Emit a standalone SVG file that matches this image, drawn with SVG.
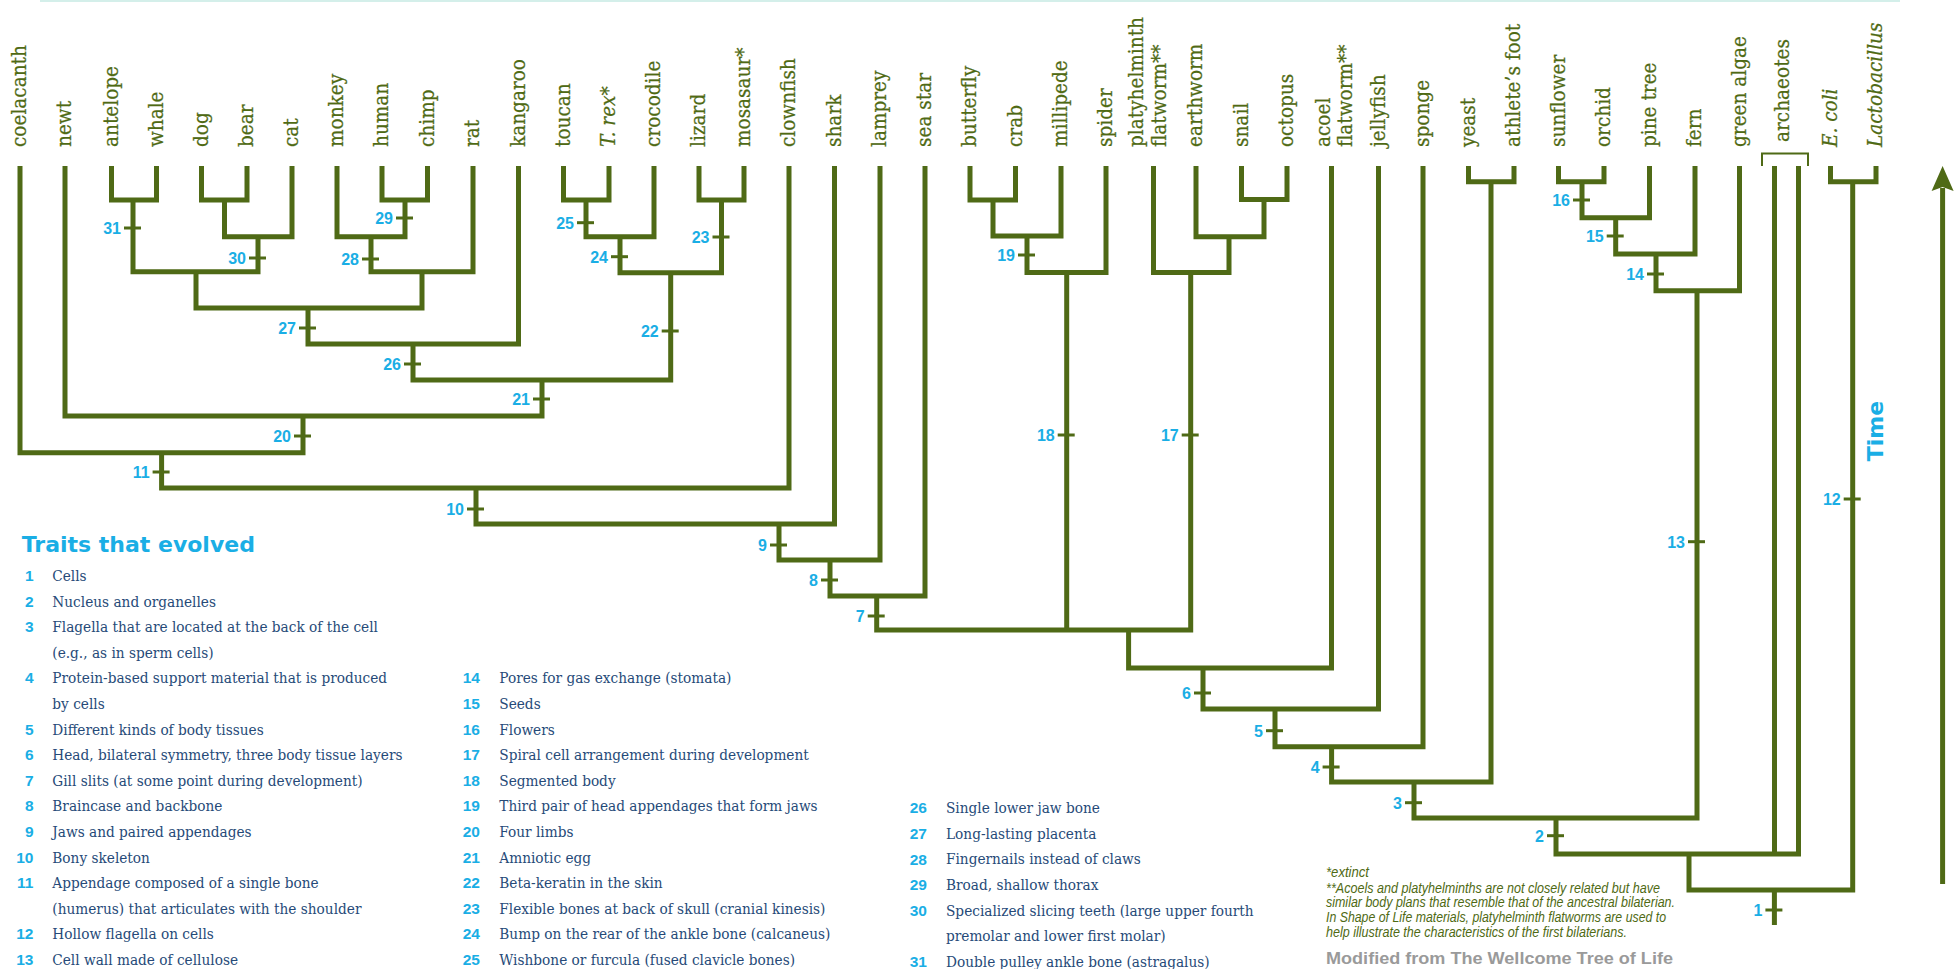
<svg xmlns="http://www.w3.org/2000/svg" width="1959" height="969" viewBox="0 0 1959 969">
<style>
.br{fill:none;stroke:#4f6a16;stroke-width:5;stroke-linejoin:miter;stroke-linecap:butt}
.thin{fill:none;stroke:#4f6a16;stroke-width:2}
.tk{fill:none;stroke:#4f6a16;stroke-width:3}
.lf{font-family:"DejaVu Serif","Liberation Serif",serif;font-size:21px;fill:#4f6a14;stroke:#4f6a14;stroke-width:0.25}
.it{font-style:italic}
.nm{font-family:"Liberation Sans",Arial,sans-serif;font-weight:bold;font-size:16px;fill:#1aaee5;text-anchor:end}
.ln{font-family:"Liberation Sans",Arial,sans-serif;font-weight:bold;font-size:15.5px;fill:#1aaee5;text-anchor:end}
.lt{font-family:"DejaVu Serif","Liberation Serif",serif;font-size:15.5px;fill:#264a78}
.fn{font-family:"Liberation Sans",Arial,sans-serif;font-style:italic;font-size:14px;fill:#4f6a14}
.ttl{font-family:"DejaVu Sans","Liberation Sans",sans-serif;font-weight:bold;font-size:22px;fill:#1aaee5}
</style>
<rect x="40" y="0" width="1860" height="2" fill="#d4efea"/>

<g id="connectors">
<path class="br" d="M111.5,166V200H156.5V166"/>
<path class="br" d="M201.5,166V200H247V166"/>
<path class="br" d="M224.5,200V236.7H292V166"/>
<path class="br" d="M382,166V200H427.5V166"/>
<path class="br" d="M337,166V236.7H405V200"/>
<path class="br" d="M133,200V271.7H258V236.7"/>
<path class="br" d="M371,236.7V271.7H473V166"/>
<path class="br" d="M196,271.7V308H422V271.7"/>
<path class="br" d="M308,308V344H518.5V166"/>
<path class="br" d="M563.5,166V200H609V166"/>
<path class="br" d="M586,200V236.7H654V166"/>
<path class="br" d="M699,166V200H744V166"/>
<path class="br" d="M620,236.7V272.7H721.5V200"/>
<path class="br" d="M413,344V380H670.7V272.7"/>
<path class="br" d="M65,166V416H542V380"/>
<path class="br" d="M20,166V452.7H303V416"/>
<path class="br" d="M161.6,452.7V488H789V166"/>
<path class="br" d="M476,488V524H834.5V166"/>
<path class="br" d="M779,524V560H880V166"/>
<path class="br" d="M830,560V596H925V166"/>
<path class="br" d="M970,166V200H1015.5V166"/>
<path class="br" d="M993,200V236H1061V166"/>
<path class="br" d="M1027,236V272.5H1106V166"/>
<path class="br" d="M1241.5,166V199.5H1287V166"/>
<path class="br" d="M1196,166V236.7H1264V199.5"/>
<path class="br" d="M1153.5,166V272.5H1229V236.7"/>
<path class="br" d="M876.7,596V630H1190.7V272.5"/>
<path class="br" d="M1066.7,272.5V630"/>
<path class="br" d="M1128.6,630V668H1331.5V166"/>
<path class="br" d="M1203,668V709H1378.5V166"/>
<path class="br" d="M1275,709V746.7H1423V166"/>
<path class="br" d="M1468.5,166V181.7H1514V166"/>
<path class="br" d="M1331.6,746.7V782H1491V181.7"/>
<path class="br" d="M1558.5,166V181.7H1604V166"/>
<path class="br" d="M1582,181.7V217.7H1649.5V166"/>
<path class="br" d="M1615.7,217.7V254H1695V166"/>
<path class="br" d="M1656,254V290.7H1739.5V166"/>
<path class="br" d="M1414,782V818H1697V290.7"/>
<path class="br" d="M1556,818V854H1798.5V166"/>
<path class="br" d="M1774.5,166V854"/>
<path class="br" d="M1830.5,166V181.7H1876V166"/>
<path class="br" d="M1689,854V890H1852.7V181.7"/>
<path class="br" d="M1774.4,890V925"/>
<path class="thin" d="M1762,166V153.5H1808V166"/>
</g>

<g id="leaves">
<g id="leaf-coelacanth"><text class="lf" transform="translate(26,147) rotate(-90) scale(0.88,1)">coelacanth</text></g>
<g id="leaf-newt"><text class="lf" transform="translate(71,147) rotate(-90) scale(0.88,1)">newt</text></g>
<g id="leaf-antelope"><text class="lf" transform="translate(117.5,147) rotate(-90) scale(0.88,1)">antelope</text></g>
<g id="leaf-whale"><text class="lf" transform="translate(162.5,147) rotate(-90) scale(0.88,1)">whale</text></g>
<g id="leaf-dog"><text class="lf" transform="translate(207.5,147) rotate(-90) scale(0.88,1)">dog</text></g>
<g id="leaf-bear"><text class="lf" transform="translate(253,147) rotate(-90) scale(0.88,1)">bear</text></g>
<g id="leaf-cat"><text class="lf" transform="translate(298,147) rotate(-90) scale(0.88,1)">cat</text></g>
<g id="leaf-monkey"><text class="lf" transform="translate(343,147) rotate(-90) scale(0.88,1)">monkey</text></g>
<g id="leaf-human"><text class="lf" transform="translate(388,147) rotate(-90) scale(0.88,1)">human</text></g>
<g id="leaf-chimp"><text class="lf" transform="translate(433.5,147) rotate(-90) scale(0.88,1)">chimp</text></g>
<g id="leaf-rat"><text class="lf" transform="translate(479,147) rotate(-90) scale(0.88,1)">rat</text></g>
<g id="leaf-kangaroo"><text class="lf" transform="translate(524.5,147) rotate(-90) scale(0.88,1)">kangaroo</text></g>
<g id="leaf-toucan"><text class="lf" transform="translate(569.5,147) rotate(-90) scale(0.88,1)">toucan</text></g>
<g id="leaf-trex"><text class="lf it" transform="translate(615,147) rotate(-90) scale(0.88,1)">T. rex*</text></g>
<g id="leaf-crocodile"><text class="lf" transform="translate(660,147) rotate(-90) scale(0.88,1)">crocodile</text></g>
<g id="leaf-lizard"><text class="lf" transform="translate(705,147) rotate(-90) scale(0.88,1)">lizard</text></g>
<g id="leaf-mosasaur"><text class="lf" transform="translate(750,147) rotate(-90) scale(0.88,1)">mosasaur*</text></g>
<g id="leaf-clownfish"><text class="lf" transform="translate(795,147) rotate(-90) scale(0.88,1)">clownfish</text></g>
<g id="leaf-shark"><text class="lf" transform="translate(840.5,147) rotate(-90) scale(0.88,1)">shark</text></g>
<g id="leaf-lamprey"><text class="lf" transform="translate(886,147) rotate(-90) scale(0.88,1)">lamprey</text></g>
<g id="leaf-seastar"><text class="lf" transform="translate(931,147) rotate(-90) scale(0.88,1)">sea star</text></g>
<g id="leaf-butterfly"><text class="lf" transform="translate(976,147) rotate(-90) scale(0.88,1)">butterfly</text></g>
<g id="leaf-crab"><text class="lf" transform="translate(1021.5,147) rotate(-90) scale(0.88,1)">crab</text></g>
<g id="leaf-millipede"><text class="lf" transform="translate(1067,147) rotate(-90) scale(0.88,1)">millipede</text></g>
<g id="leaf-spider"><text class="lf" transform="translate(1112,147) rotate(-90) scale(0.88,1)">spider</text></g>
<g id="leaf-platyhelminth"><text class="lf" transform="translate(1143,147) rotate(-90) scale(0.88,1)">platyhelminth</text><text class="lf" transform="translate(1166,147) rotate(-90) scale(0.88,1)">flatworm**</text></g>
<g id="leaf-earthworm"><text class="lf" transform="translate(1202,147) rotate(-90) scale(0.88,1)">earthworm</text></g>
<g id="leaf-snail"><text class="lf" transform="translate(1247.5,147) rotate(-90) scale(0.88,1)">snail</text></g>
<g id="leaf-octopus"><text class="lf" transform="translate(1293,147) rotate(-90) scale(0.88,1)">octopus</text></g>
<g id="leaf-acoel"><text class="lf" transform="translate(1330,147) rotate(-90) scale(0.88,1)">acoel</text><text class="lf" transform="translate(1352,147) rotate(-90) scale(0.88,1)">flatworm**</text></g>
<g id="leaf-jellyfish"><text class="lf" transform="translate(1384.5,147) rotate(-90) scale(0.88,1)">jellyfish</text></g>
<g id="leaf-sponge"><text class="lf" transform="translate(1429,147) rotate(-90) scale(0.88,1)">sponge</text></g>
<g id="leaf-yeast"><text class="lf" transform="translate(1474.5,147) rotate(-90) scale(0.88,1)">yeast</text></g>
<g id="leaf-athletesfoot"><text class="lf" transform="translate(1520,147) rotate(-90) scale(0.88,1)">athlete’s foot</text></g>
<g id="leaf-sunflower"><text class="lf" transform="translate(1564.5,147) rotate(-90) scale(0.88,1)">sunflower</text></g>
<g id="leaf-orchid"><text class="lf" transform="translate(1610,147) rotate(-90) scale(0.88,1)">orchid</text></g>
<g id="leaf-pinetree"><text class="lf" transform="translate(1655.5,147) rotate(-90) scale(0.88,1)">pine tree</text></g>
<g id="leaf-fern"><text class="lf" transform="translate(1701,147) rotate(-90) scale(0.88,1)">fern</text></g>
<g id="leaf-greenalgae"><text class="lf" transform="translate(1745.5,147) rotate(-90) scale(0.88,1)">green algae</text></g>
<g id="leaf-archaeotes"><text class="lf" transform="translate(1789,142) rotate(-90) scale(0.88,1)">archaeotes</text></g>
<g id="leaf-ecoli"><text class="lf it" transform="translate(1836.5,147) rotate(-90) scale(0.88,1)">E. coli</text></g>
<g id="leaf-lactobacillus"><text class="lf it" transform="translate(1882,147) rotate(-90) scale(0.88,1)">Lactobacillus</text></g>
</g>

<g id="traits">
<g id="node-1"><path class="tk" d="M1765.4,910H1782.4"/><text class="nm" x="1762.4" y="916">1</text></g>
<g id="node-2"><path class="tk" d="M1547,835.7H1564"/><text class="nm" x="1544" y="841.7">2</text></g>
<g id="node-3"><path class="tk" d="M1405,802.7H1422"/><text class="nm" x="1402" y="808.7">3</text></g>
<g id="node-4"><path class="tk" d="M1322.6,767H1339.6"/><text class="nm" x="1319.6" y="773">4</text></g>
<g id="node-5"><path class="tk" d="M1266,730.7H1283"/><text class="nm" x="1263" y="736.7">5</text></g>
<g id="node-6"><path class="tk" d="M1194,693H1211"/><text class="nm" x="1191" y="699">6</text></g>
<g id="node-7"><path class="tk" d="M867.7,616H884.7"/><text class="nm" x="864.7" y="622">7</text></g>
<g id="node-8"><path class="tk" d="M821,580H838"/><text class="nm" x="818" y="586">8</text></g>
<g id="node-9"><path class="tk" d="M770,545H787"/><text class="nm" x="767" y="551">9</text></g>
<g id="node-10"><path class="tk" d="M467,509H484"/><text class="nm" x="464" y="515">10</text></g>
<g id="node-11"><path class="tk" d="M152.6,472H169.6"/><text class="nm" x="149.6" y="478">11</text></g>
<g id="node-12"><path class="tk" d="M1843.7,499H1860.7"/><text class="nm" x="1840.7" y="505">12</text></g>
<g id="node-13"><path class="tk" d="M1688,541.7H1705"/><text class="nm" x="1685" y="547.7">13</text></g>
<g id="node-14"><path class="tk" d="M1647,274H1664"/><text class="nm" x="1644" y="280">14</text></g>
<g id="node-15"><path class="tk" d="M1606.7,236H1623.7"/><text class="nm" x="1603.7" y="242">15</text></g>
<g id="node-16"><path class="tk" d="M1573,200H1590"/><text class="nm" x="1570" y="206">16</text></g>
<g id="node-17"><path class="tk" d="M1181.7,435H1198.7"/><text class="nm" x="1178.7" y="441">17</text></g>
<g id="node-18"><path class="tk" d="M1057.7,435H1074.7"/><text class="nm" x="1054.7" y="441">18</text></g>
<g id="node-19"><path class="tk" d="M1018,255H1035"/><text class="nm" x="1015" y="261">19</text></g>
<g id="node-20"><path class="tk" d="M294,436H311"/><text class="nm" x="291" y="442">20</text></g>
<g id="node-21"><path class="tk" d="M533,399H550"/><text class="nm" x="530" y="405">21</text></g>
<g id="node-22"><path class="tk" d="M661.7,331H678.7"/><text class="nm" x="658.7" y="337">22</text></g>
<g id="node-23"><path class="tk" d="M712.5,237H729.5"/><text class="nm" x="709.5" y="243">23</text></g>
<g id="node-24"><path class="tk" d="M611,256.7H628"/><text class="nm" x="608" y="262.7">24</text></g>
<g id="node-25"><path class="tk" d="M577,222.7H594"/><text class="nm" x="574" y="228.7">25</text></g>
<g id="node-26"><path class="tk" d="M404,364H421"/><text class="nm" x="401" y="370">26</text></g>
<g id="node-27"><path class="tk" d="M299,328H316"/><text class="nm" x="296" y="334">27</text></g>
<g id="node-28"><path class="tk" d="M362,259H379"/><text class="nm" x="359" y="265">28</text></g>
<g id="node-29"><path class="tk" d="M396,218H413"/><text class="nm" x="393" y="224">29</text></g>
<g id="node-30"><path class="tk" d="M249,258H266"/><text class="nm" x="246" y="264">30</text></g>
<g id="node-31"><path class="tk" d="M124,228H141"/><text class="nm" x="121" y="234">31</text></g>
</g>

<g id="time-axis">
<path class="br" d="M1942.6,188V884"/>
<polygon points="1942.6,166 1953.6,191 1942.6,187 1931.6,191" fill="#4f6a16"/>
<text class="ttl" text-anchor="middle" transform="translate(1883,431) rotate(-90)">Time</text>
</g>

<g id="legend">
<text class="ttl" x="21.7" y="551.7">Traits that evolved</text>
<g id="legend-numbers">
<text class="ln" x="33.5" y="581">1</text>
<text class="ln" x="33.5" y="606.6">2</text>
<text class="ln" x="33.5" y="632.2">3</text>
<text class="ln" x="33.5" y="683.4">4</text>
<text class="ln" x="33.5" y="734.6">5</text>
<text class="ln" x="33.5" y="760.2">6</text>
<text class="ln" x="33.5" y="785.8">7</text>
<text class="ln" x="33.5" y="811.4">8</text>
<text class="ln" x="33.5" y="837">9</text>
<text class="ln" x="33.5" y="862.6">10</text>
<text class="ln" x="33.5" y="888.2">11</text>
<text class="ln" x="33.5" y="939.4">12</text>
<text class="ln" x="33.5" y="965">13</text>
<text class="ln" x="480" y="683.4">14</text>
<text class="ln" x="480" y="709">15</text>
<text class="ln" x="480" y="734.6">16</text>
<text class="ln" x="480" y="760.2">17</text>
<text class="ln" x="480" y="785.8">18</text>
<text class="ln" x="480" y="811.4">19</text>
<text class="ln" x="480" y="837">20</text>
<text class="ln" x="480" y="862.6">21</text>
<text class="ln" x="480" y="888.2">22</text>
<text class="ln" x="480" y="913.8">23</text>
<text class="ln" x="480" y="939.4">24</text>
<text class="ln" x="480" y="965">25</text>
<text class="ln" x="927" y="813.3">26</text>
<text class="ln" x="927" y="838.9">27</text>
<text class="ln" x="927" y="864.5">28</text>
<text class="ln" x="927" y="890.1">29</text>
<text class="ln" x="927" y="915.7">30</text>
<text class="ln" x="927" y="966.9">31</text>
</g>
<g id="legend-col1" transform="translate(52.3,0) scale(0.884,1)">
<text class="lt" x="0" y="581">Cells</text>
<text class="lt" x="0" y="606.6">Nucleus and organelles</text>
<text class="lt" x="0" y="632.2">Flagella that are located at the back of the cell</text>
<text class="lt" x="0" y="657.8">(e.g., as in sperm cells)</text>
<text class="lt" x="0" y="683.4">Protein-based support material that is produced</text>
<text class="lt" x="0" y="709">by cells</text>
<text class="lt" x="0" y="734.6">Different kinds of body tissues</text>
<text class="lt" x="0" y="760.2">Head, bilateral symmetry, three body tissue layers</text>
<text class="lt" x="0" y="785.8">Gill slits (at some point during development)</text>
<text class="lt" x="0" y="811.4">Braincase and backbone</text>
<text class="lt" x="0" y="837">Jaws and paired appendages</text>
<text class="lt" x="0" y="862.6">Bony skeleton</text>
<text class="lt" x="0" y="888.2">Appendage composed of a single bone</text>
<text class="lt" x="0" y="913.8">(humerus) that articulates with the shoulder</text>
<text class="lt" x="0" y="939.4">Hollow flagella on cells</text>
<text class="lt" x="0" y="965">Cell wall made of cellulose</text>
</g>
<g id="legend-col2" transform="translate(499.3,0) scale(0.884,1)">
<text class="lt" x="0" y="683.4">Pores for gas exchange (stomata)</text>
<text class="lt" x="0" y="709">Seeds</text>
<text class="lt" x="0" y="734.6">Flowers</text>
<text class="lt" x="0" y="760.2">Spiral cell arrangement during development</text>
<text class="lt" x="0" y="785.8">Segmented body</text>
<text class="lt" x="0" y="811.4">Third pair of head appendages that form jaws</text>
<text class="lt" x="0" y="837">Four limbs</text>
<text class="lt" x="0" y="862.6">Amniotic egg</text>
<text class="lt" x="0" y="888.2">Beta-keratin in the skin</text>
<text class="lt" x="0" y="913.8">Flexible bones at back of skull (cranial kinesis)</text>
<text class="lt" x="0" y="939.4">Bump on the rear of the ankle bone (calcaneus)</text>
<text class="lt" x="0" y="965">Wishbone or furcula (fused clavicle bones)</text>
</g>
<g id="legend-col3" transform="translate(946,0) scale(0.884,1)">
<text class="lt" x="0" y="813.3">Single lower jaw bone</text>
<text class="lt" x="0" y="838.9">Long-lasting placenta</text>
<text class="lt" x="0" y="864.5">Fingernails instead of claws</text>
<text class="lt" x="0" y="890.1">Broad, shallow thorax</text>
<text class="lt" x="0" y="915.7">Specialized slicing teeth (large upper fourth</text>
<text class="lt" x="0" y="941.3">premolar and lower first molar)</text>
<text class="lt" x="0" y="966.9">Double pulley ankle bone (astragalus)</text>
</g>
</g>

<g id="footnote">
<text class="fn" x="1326" y="877" textLength="43" lengthAdjust="spacingAndGlyphs">*extinct</text>
<text class="fn" x="1326" y="892.5" textLength="334" lengthAdjust="spacingAndGlyphs">**Acoels and platyhelminths are not closely related but have</text>
<text class="fn" x="1326" y="907" textLength="349" lengthAdjust="spacingAndGlyphs">similar body plans that resemble that of the ancestral bilaterian.</text>
<text class="fn" x="1326" y="922" textLength="340" lengthAdjust="spacingAndGlyphs">In Shape of Life materials, platyhelminth flatworms are used to</text>
<text class="fn" x="1326" y="937" textLength="301" lengthAdjust="spacingAndGlyphs">help illustrate the characteristics of the first bilaterians.</text>
<text x="1326" y="963.5" textLength="347" lengthAdjust="spacingAndGlyphs" font-family="'Liberation Sans',Arial,sans-serif" font-weight="bold" font-size="16.5" fill="#9a9a9a">Modified from The Wellcome Tree of Life</text>
</g>
</svg>
